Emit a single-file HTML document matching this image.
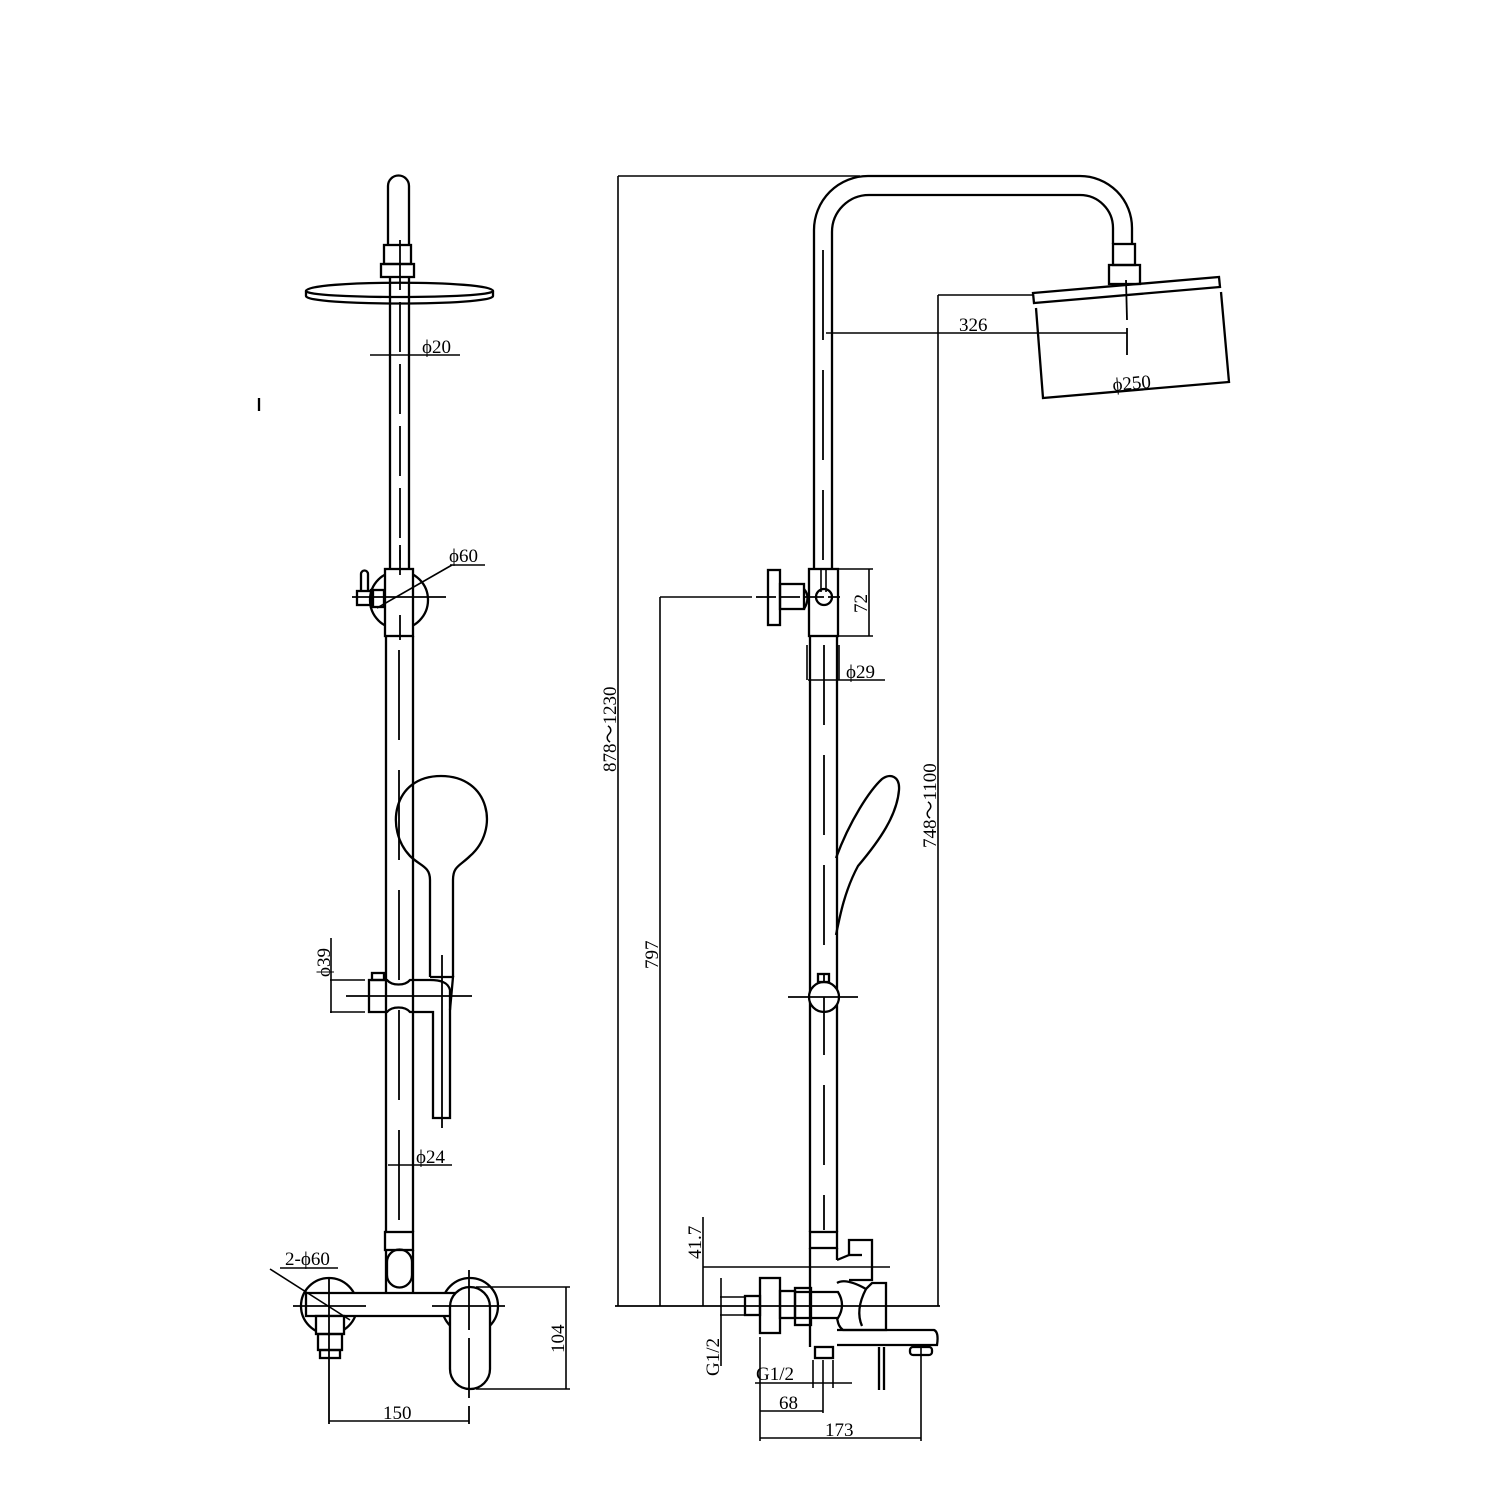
<!DOCTYPE html>
<html><head><meta charset="utf-8"><style>
html,body{margin:0;padding:0;background:#fff;width:1500px;height:1500px;overflow:hidden}
svg{display:block}
text{font-family:"Liberation Serif",serif;font-size:19px;fill:#000}
</style></head><body>
<svg width="1500" height="1500" viewBox="0 0 1500 1500" xmlns="http://www.w3.org/2000/svg">
<g fill="none" stroke="#000" stroke-width="2.3">
<!-- ===== LEFT VIEW ===== -->
<line x1="259" y1="398" x2="259" y2="411"/>
<path d="M388 245 V186 A10.5 10.5 0 0 1 409 186 V245"/>
<rect x="384" y="245" width="27" height="19"/>
<rect x="381" y="264" width="33" height="13"/>
<path d="M306 291 C306 280 493 280 493 291 V296 C493 306 306 306 306 296 Z"/>
<path d="M306 291 C306 299 493 299 493 291"/>
<line x1="390" y1="277" x2="390" y2="569"/>
<line x1="409" y1="277" x2="409" y2="569"/>
<line x1="400" y1="240" x2="400" y2="560" stroke-width="1.8" stroke-dasharray="50 12"/>
<line x1="370" y1="355" x2="460" y2="355" stroke-width="1.6"/>
<!-- bracket -->
<circle cx="399" cy="600" r="29"/>
<rect x="385" y="569" width="28" height="67" fill="#fff"/>
<rect x="357" y="591" width="16" height="14"/>
<rect x="371" y="590" width="13" height="17"/>
<path d="M361 590 V574 A3.5 3.5 0 0 1 368 574 V590"/>
<line x1="352" y1="597" x2="446" y2="597" stroke-width="1.8"/>
<line x1="377" y1="608" x2="452" y2="565" stroke-width="1.6"/>
<line x1="450" y1="565" x2="485" y2="565" stroke-width="1.6"/>
<line x1="400" y1="545" x2="400" y2="575" stroke-width="1.8"/>
<line x1="400" y1="615" x2="400" y2="640" stroke-width="1.8"/>
<!-- lower pipe -->
<line x1="386" y1="636" x2="386" y2="1232"/>
<line x1="413" y1="636" x2="413" y2="1232"/>
<line x1="399" y1="650" x2="399" y2="1230" stroke-width="1.8" stroke-dasharray="90 30"/>
<!-- hand shower -->
<path d="M430 977 V880 C430 866 420 866 410 856 C385 830 392 776 441 776 C490 776 500 830 470 856 C460 866 453 866 453 880 V977"/>
<line x1="442" y1="955" x2="442" y2="1128" stroke-width="1.8"/>
<path d="M430 977 H453 L450 1010"/>
<!-- holder -->
<path d="M369 980 H387 C392 986 405 986 410 980 H430 C440 980 448 982 450 990 V1118 H433 V1012 H410 C405 1006 392 1006 387 1012 H369 Z"/>
<rect x="372" y="973" width="12" height="7"/>
<line x1="346" y1="996" x2="472" y2="996" stroke-width="1.8"/>
<line x1="330" y1="980" x2="365" y2="980" stroke-width="1.6"/>
<line x1="330" y1="1012" x2="365" y2="1012" stroke-width="1.6"/>
<line x1="331" y1="938" x2="331" y2="1013" stroke-width="1.6"/>
<line x1="388" y1="1165" x2="452" y2="1165" stroke-width="1.6"/>
<!-- bottom left -->
<rect x="385" y="1232" width="28" height="18"/>
<path d="M386 1250 V1293 M413 1250 V1293"/>
<path d="M387 1275 A12.5 12.5 0 0 0 412 1275" />
<path d="M387 1262 A12.5 12.5 0 0 1 412 1262" />
<line x1="387" y1="1262" x2="387" y2="1275"/>
<line x1="412" y1="1262" x2="412" y2="1275"/>
<circle cx="329" cy="1306" r="28"/>
<circle cx="470" cy="1306" r="28"/>
<path d="M306 1293 H470 V1316 H306 Z" fill="#fff"/>
<rect x="450" y="1287" width="40" height="102" rx="20" fill="#fff"/>
<rect x="316" y="1316" width="28" height="18" fill="#fff"/>
<rect x="318" y="1334" width="24" height="16"/>
<rect x="320" y="1350" width="20" height="8"/>
<line x1="329" y1="1278" x2="329" y2="1424" stroke-width="1.8"/>
<line x1="469" y1="1270" x2="469" y2="1424" stroke-width="1.8" stroke-dasharray="60 8"/>
<line x1="293" y1="1306" x2="366" y2="1306" stroke-width="1.8"/>
<line x1="432" y1="1306" x2="505" y2="1306" stroke-width="1.8"/>
<line x1="270" y1="1269" x2="350" y2="1320" stroke-width="1.6"/>
<line x1="280" y1="1268" x2="338" y2="1268" stroke-width="1.6"/>
<line x1="476" y1="1287" x2="570" y2="1287" stroke-width="1.6"/>
<line x1="476" y1="1389" x2="570" y2="1389" stroke-width="1.6"/>
<line x1="566" y1="1287" x2="566" y2="1389" stroke-width="1.6"/>
<line x1="329" y1="1421" x2="469" y2="1421" stroke-width="1.6"/>

<!-- ===== RIGHT VIEW ===== -->
<path d="M814 568 V230 A54 54 0 0 1 868 176 H1080 A52 52 0 0 1 1132 228 V244"/>
<path d="M832 568 V232 A37 37 0 0 1 869 195 H1080 A33 33 0 0 1 1113 228 V244"/>
<line x1="823" y1="250" x2="823" y2="560" stroke-width="1.8" stroke-dasharray="90 30"/>
<rect x="1113" y="244" width="22" height="21"/>
<rect x="1109" y="265" width="31" height="19"/>
<path d="M1033 293 L1219 277 L1220 287 L1034 303 Z"/>
<path d="M1036 308 L1043 398 L1229 382 L1221 292"/>
<line x1="1126" y1="280" x2="1127" y2="320" stroke-width="1.8"/>
<line x1="1127" y1="328" x2="1127" y2="355" stroke-width="1.8"/>
<line x1="826" y1="333" x2="1127" y2="333" stroke-width="1.6"/>
<line x1="938" y1="295" x2="1033" y2="295" stroke-width="1.6"/>
<line x1="938" y1="295" x2="938" y2="1306" stroke-width="1.6"/>
<line x1="618" y1="176" x2="860" y2="176" stroke-width="1.6"/>
<line x1="618" y1="176" x2="618" y2="1306" stroke-width="1.6"/>
<line x1="615" y1="1306" x2="940" y2="1306" stroke-width="1.8"/>
<!-- bracket right -->
<rect x="809" y="569" width="29" height="67"/>
<circle cx="824" cy="597" r="8"/>
<line x1="821" y1="570" x2="821" y2="592" stroke-width="1.6"/>
<line x1="826" y1="570" x2="826" y2="592" stroke-width="1.6"/>
<rect x="768" y="570" width="12" height="55"/>
<rect x="780" y="584" width="24" height="25"/>
<path d="M804 589 Q811 597 804 609"/>
<line x1="660" y1="597" x2="752" y2="597" stroke-width="1.6"/>
<line x1="756" y1="597" x2="840" y2="597" stroke-width="1.8" stroke-dasharray="20 4"/>
<line x1="838" y1="569" x2="873" y2="569" stroke-width="1.6"/>
<line x1="838" y1="636" x2="873" y2="636" stroke-width="1.6"/>
<line x1="869" y1="569" x2="869" y2="636" stroke-width="1.6"/>
<line x1="660" y1="597" x2="660" y2="1306" stroke-width="1.6"/>
<!-- lower pipe right -->
<line x1="810" y1="636" x2="810" y2="1232"/>
<line x1="837" y1="636" x2="837" y2="1232"/>
<line x1="807" y1="645" x2="807" y2="680" stroke-width="1.6"/>
<line x1="839" y1="645" x2="839" y2="680" stroke-width="1.6"/>
<line x1="824" y1="645" x2="824" y2="1230" stroke-width="1.8" stroke-dasharray="80 30"/>
<line x1="808" y1="680" x2="885" y2="680" stroke-width="1.6"/>
<!-- hand shower right -->
<path d="M836 858 C850 820 870 790 882 779 C890 773 900 776 899 790 C897 815 880 840 858 866 C845 890 840 915 836 935"/>
<!-- holder right -->
<circle cx="824" cy="997" r="15" fill="#fff"/>
<rect x="818" y="974" width="11" height="8"/>
<line x1="788" y1="997" x2="858" y2="997" stroke-width="1.8"/>
<line x1="824" y1="997" x2="824" y2="1012" stroke-width="1.8"/>
<!-- bottom right -->
<rect x="810" y="1232" width="27" height="16"/>
<line x1="810" y1="1248" x2="810" y2="1347"/>
<line x1="837" y1="1248" x2="837" y2="1260"/>
<path d="M837 1260 L849 1255 V1240 H872 V1280 H849"/>
<path d="M849 1255 H862"/>
<rect x="815" y="1347" width="18" height="11"/>
<line x1="703" y1="1267" x2="890" y2="1267" stroke-width="1.6"/>
<line x1="703" y1="1217" x2="703" y2="1306" stroke-width="1.6"/>
<line x1="721" y1="1278" x2="721" y2="1366" stroke-width="1.6"/>
<line x1="720" y1="1297" x2="745" y2="1297" stroke-width="1.6"/>
<line x1="720" y1="1315" x2="745" y2="1315" stroke-width="1.6"/>
<rect x="745" y="1296" width="15" height="19"/>
<rect x="760" y="1278" width="20" height="55"/>
<rect x="780" y="1291" width="15" height="27"/>
<rect x="795" y="1288" width="16" height="37"/>
<path d="M795 1292 H838 Q846 1305 838 1318 H795"/>
<path d="M837 1283 C842 1280 850 1280 866 1289 L872 1283 H886 V1330 H843 C838 1326 838 1322 837 1318"/>
<path d="M866 1289 Q855 1310 862 1326"/>
<path d="M837 1330 H934 Q939 1332 937 1345 H837"/>
<rect x="910" y="1347" width="22" height="8" rx="3"/>
<line x1="879" y1="1347" x2="879" y2="1390"/>
<line x1="884" y1="1347" x2="884" y2="1390"/>
<line x1="755" y1="1383" x2="852" y2="1383" stroke-width="1.6"/>
<line x1="813" y1="1360" x2="813" y2="1388" stroke-width="1.6"/>
<line x1="833" y1="1360" x2="833" y2="1388" stroke-width="1.6"/>
<line x1="823" y1="1360" x2="823" y2="1413" stroke-width="1.6"/>
<line x1="760" y1="1337" x2="760" y2="1441" stroke-width="1.6"/>
<line x1="921" y1="1345" x2="921" y2="1441" stroke-width="1.6"/>
<line x1="760" y1="1411" x2="823" y2="1411" stroke-width="1.6"/>
<line x1="760" y1="1438" x2="921" y2="1438" stroke-width="1.6"/>
</g>
<!-- texts -->
<text x="422" y="353">ϕ20</text>
<text x="449" y="562">ϕ60</text>
<text x="416" y="1163">ϕ24</text>
<text transform="translate(330,977) rotate(-90)">ϕ39</text>
<text x="285" y="1265">2-ϕ60</text>
<text transform="translate(564,1353) rotate(-90)">104</text>
<text x="383" y="1419">150</text>
<text x="959" y="331">326</text>
<text transform="translate(1113,391) rotate(-5)">ϕ250</text>
<text transform="translate(936,848) rotate(-90)">748～1100</text>
<text transform="translate(616,772) rotate(-90)">878～1230</text>
<text transform="translate(867,613) rotate(-90)">72</text>
<text x="846" y="678">ϕ29</text>
<text transform="translate(658,969) rotate(-90)">797</text>
<text transform="translate(701,1259) rotate(-90)">41.7</text>
<text transform="translate(719,1376) rotate(-90)">G1/2</text>
<text x="756" y="1380">G1/2</text>
<text x="779" y="1409">68</text>
<text x="825" y="1436">173</text>
</svg>
</body></html>
